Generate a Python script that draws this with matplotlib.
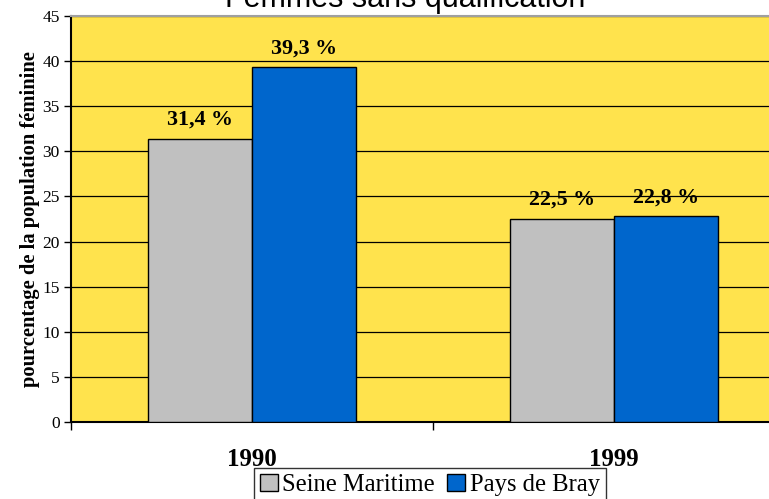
import matplotlib
matplotlib.use('Agg')

import numpy as np
import matplotlib.pyplot as plt
from matplotlib.patches import Patch

years = ["1990", "1999"]
series = ["Seine Maritime", "Pays de Bray"]
seine = [31.4, 22.5]
bray = [39.3, 22.8]
labels_seine = ["31,4 %", "22,5 %"]
labels_bray = ["39,3 %", "22,8 %"]

yellow = "#FFE34D"
grey = "#C0C0C0"
blue = "#0066CC"

W, H = 769, 499
fig = plt.figure(figsize=(W / 100, H / 100), dpi=100)
# plot area runs past the right edge of the picture, as in the original
ax = fig.add_axes([71 / W, (H - 422) / H, 724 / W, 406 / H])
ax.set_facecolor(yellow)

x = np.arange(len(years))
bw = 0.2875
ax.bar(x - bw / 2, seine, bw, color=grey, edgecolor="black", linewidth=1, zorder=3)
ax.bar(x + bw / 2, bray, bw, color=blue, edgecolor="black", linewidth=1, zorder=3)

tfont = dict(family="Liberation Serif", fontweight="bold", fontsize=15.8)
for xi, v, s in zip(x, seine, labels_seine):
    ax.text(xi - bw / 2, v + 1.0, s, ha="center", va="bottom", **tfont)
for xi, v, s in zip(x, bray, labels_bray):
    ax.text(xi + bw / 2, v + 1.0, s, ha="center", va="bottom", **tfont)

ax.set_xlim(-0.5, 1.5)
ax.set_ylim(0, 45)
ax.set_yticks(np.arange(0, 46, 5))
ax.yaxis.grid(True, color="black", linewidth=0.9, zorder=0)
ax.set_axisbelow(True)
for lab in ax.get_yticklabels():
    lab.set_fontfamily("Liberation Serif")
    lab.set_fontsize(12.5)
ax.tick_params(axis="y", direction="out", length=5, width=1, pad=3)

ax.set_xticks([-0.5, 0.5, 1.5])
ax.set_xticklabels([])
ax.tick_params(axis="x", which="major", direction="out", length=6, width=1)
ax.set_xticks(x, minor=True)
ax.set_xticklabels(years, minor=True, fontfamily="Liberation Serif",
                   fontweight="bold", fontsize=18)
ax.tick_params(axis="x", which="minor", length=0, pad=19)

ax.spines["left"].set_linewidth(1.5)
ax.spines["bottom"].set_linewidth(1.5)
ax.spines["top"].set_color("#A0A0A0")
ax.spines["top"].set_linewidth(1.5)
ax.spines["right"].set_visible(False)

ax.set_ylabel("pourcentage de la population féminine", fontfamily="Liberation Serif",
              fontweight="bold", fontsize=14.8, labelpad=2)

fig.text(405 / W, 1 - 7 / H, "Femmes sans qualification", ha="center", va="baseline",
         fontfamily="Liberation Sans", fontsize=22)

handles = [Patch(facecolor=grey, edgecolor="black"), Patch(facecolor=blue, edgecolor="black")]
fig.legend(handles, series, loc="upper center", bbox_to_anchor=(430 / W, 1 - 468 / H),
           ncol=2, frameon=True, fancybox=False, edgecolor="black",
           prop=dict(family="Liberation Serif", size=17.7),
           handlelength=0.7, handleheight=0.7, handletextpad=0.2, columnspacing=0.5,
           borderpad=0.25, borderaxespad=0)

fig.savefig("out.png", dpi=100)
